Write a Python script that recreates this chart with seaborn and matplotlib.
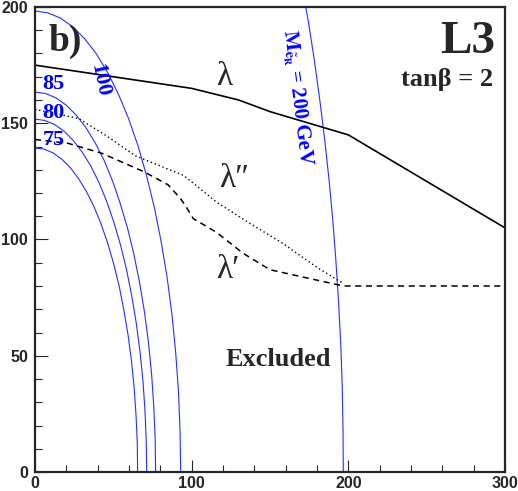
import numpy as np
import pandas as pd
import seaborn as sns
import matplotlib.pyplot as plt
from matplotlib.ticker import MultipleLocator

sns.set_style('ticks')
plt.rcParams['font.family'] = ['Liberation Sans', 'DejaVu Sans']
plt.rcParams['mathtext.fontset'] = 'stix'
SERIF = ['Liberation Serif', 'DejaVu Serif']

# limits (x and y in the same units as the axes)
lam_x = [0, 100, 130, 150, 200, 300]
lam_y = [175, 165, 160, 155, 145, 105]

lam2_x = [0, 28, 47, 64, 75, 95, 106, 116, 137, 158, 180, 197]
lam2_y = [156, 152, 144, 136, 133, 127.5, 121.5, 116, 107, 98.4, 88, 81]

lam1_x = [0, 21, 43, 70, 85, 93, 97, 101, 116, 133, 150, 170, 197, 300]
lam1_y = [143, 141.4, 137, 129, 123.5, 117.5, 113.5, 109, 103, 94, 87, 84, 80, 80]

# blue contours
c100_x = [0, 8.1, 16.1, 24.1, 31.8, 39.3, 46.5, 53.3, 59.8, 65.8, 71.2, 76.2, 80.5, 84.3, 87.4, 89.8, 91.6, 92.6, 93]
c100_y = [198.3, 197.5, 195.3, 191.5, 186.3, 179.7, 171.7, 162.4, 151.9, 140.2, 127.5, 113.7, 99.2, 83.8, 67.8, 51.3, 34.4, 17.3, 0]
c85_x = [0, 6.7, 13.4, 19.9, 26.3, 32.5, 38.5, 44.2, 49.5, 54.4, 59.0, 63.1, 66.7, 69.8, 72.4, 74.4, 75.8, 76.7, 77]
c85_y = [163.4, 162.8, 160.9, 157.8, 153.5, 148.1, 141.5, 133.9, 125.2, 115.5, 105.0, 93.7, 81.7, 69.1, 55.9, 42.3, 28.4, 14.2, 0]
c80_x = [0, 6.2, 12.4, 18.5, 24.4, 30.1, 35.7, 40.9, 45.8, 50.4, 54.6, 58.4, 61.7, 64.6, 67.0, 68.9, 70.2, 71.0, 71.3]
c80_y = [151.8, 151.2, 149.5, 146.6, 142.6, 137.6, 131.5, 124.4, 116.3, 107.3, 97.6, 87.1, 75.9, 64.2, 51.9, 39.3, 26.4, 13.2, 0]
c75_x = [0, 5.7, 11.4, 17.0, 22.4, 27.7, 32.8, 37.6, 42.1, 46.3, 50.2, 53.7, 56.7, 59.4, 61.6, 63.3, 64.5, 65.3, 65.5]
c75_y = [139.4, 138.9, 137.3, 134.6, 131.0, 126.3, 120.7, 114.2, 106.8, 98.6, 89.6, 80.0, 69.7, 58.9, 47.7, 36.1, 24.2, 12.2, 0]
c200_x = [170.4, 174.6, 178.4, 181.8, 184.9, 187.7, 190.1, 192.1, 193.8, 195.2, 196.1, 196.6, 196.8]
c200_y = [209, 193.3, 176.7, 159.9, 143, 125.6, 108.2, 90.5, 72.6, 54.6, 36.4, 18.2, 0]

fig = plt.figure(figsize=(5.18, 4.91), dpi=100)
ax = fig.add_axes([35/518, 19/491, 470/518, 465/491])

blue = '#2233ff'
for cx, cy in [(c100_x, c100_y), (c85_x, c85_y), (c80_x, c80_y),
               (c75_x, c75_y), (c200_x, c200_y)]:
    d = pd.DataFrame({'x': cx, 'y': cy})
    sns.lineplot(data=d, x='x', y='y', sort=False, estimator=None,
                 color=blue, lw=0.8, ax=ax)

d = pd.DataFrame({'x': lam_x, 'y': lam_y})
sns.lineplot(data=d, x='x', y='y', sort=False, estimator=None, color='black', lw=1.2, ax=ax)
d = pd.DataFrame({'x': lam2_x, 'y': lam2_y})
sns.lineplot(data=d, x='x', y='y', sort=False, estimator=None, color='black', lw=1.0,
             linestyle=(0, (1, 2)), ax=ax)
d = pd.DataFrame({'x': lam1_x, 'y': lam1_y})
sns.lineplot(data=d, x='x', y='y', sort=False, estimator=None, color='black', lw=1.1,
             linestyle=(0, (4, 3)), ax=ax)

ax.set_xlim(0, 300)
ax.set_ylim(0, 200)
ax.set_xlabel('')
ax.set_ylabel('')
ax.xaxis.set_major_locator(MultipleLocator(100))
ax.xaxis.set_minor_locator(MultipleLocator(20))
ax.yaxis.set_major_locator(MultipleLocator(50))
ax.yaxis.set_minor_locator(MultipleLocator(10))
ax.tick_params(which='both', direction='in', top=False, right=False, width=0.8)
ax.tick_params(which='major', length=9, pad=3)
ax.tick_params(which='minor', length=5)
ax.tick_params(axis='y', which='major', pad=5)
for lab in ax.get_xticklabels() + ax.get_yticklabels():
    lab.set_fontweight('bold')
    lab.set_fontsize(11.5)
for s in ax.spines.values():
    s.set_linewidth(1.6)
    s.set_visible(True)

# texts
ax.text(19, 185, 'b)', family=SERIF, fontsize=27, fontweight='bold', ha='center', va='center')
ax.text(294, 185, 'L3', family=SERIF, fontsize=34, fontweight='bold', ha='right', va='center')
ax.text(292.5, 169, 'tanβ = 2', family=SERIF, fontsize=19, fontweight='bold', ha='right', va='center')
ax.text(121, 170, 'λ', family=SERIF, fontsize=24, ha='center', va='center')
ax.text(127, 126, 'λ″', family=SERIF, fontsize=24, ha='center', va='center')
ax.text(123, 87, 'λ′', family=SERIF, fontsize=24, ha='center', va='center')
ax.text(155, 48.6, 'Excluded', family=SERIF, fontsize=19, fontweight='bold', ha='center', va='center')
ax.text(11.5, 167, '85', family=SERIF, fontsize=16, fontweight='bold', color='blue', ha='center', va='center')
ax.text(12, 154.6, '80', family=SERIF, fontsize=16, fontweight='bold', color='blue', ha='center', va='center')
ax.text(12, 143, '75', family=SERIF, fontsize=16, fontweight='bold', color='blue', ha='center', va='center')
ax.text(41, 168.6, '100', family=SERIF, fontsize=16, fontweight='bold', color='blue',
        rotation=-78, ha='center', va='center', rotation_mode='anchor')
ax.text(167, 161, r'$\mathbf{M}_{\tilde{\mathbf{e}}_{\mathbf{R}}}$ = 200 GeV', family=SERIF,
        fontsize=15, fontweight='bold', color='blue', rotation=-83, ha='center', va='center',
        rotation_mode='anchor')

fig.savefig('out.png', dpi=100)
